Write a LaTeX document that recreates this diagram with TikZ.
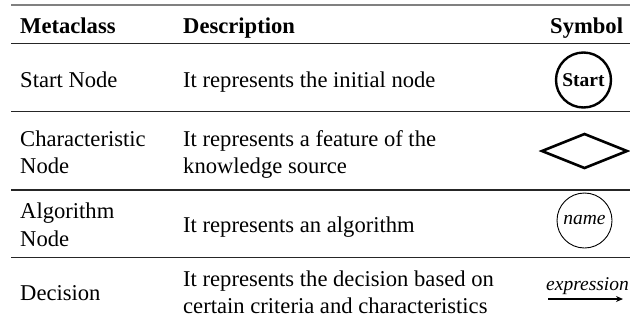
\documentclass[tikz,border=0pt]{standalone}
\usepackage{fontspec}
\setmainfont{Liberation Serif}
\usetikzlibrary{arrows.meta}
\begin{document}
\begin{tikzpicture}[x=1pt,y=-1pt,
  txt/.style={inner sep=0pt,anchor=base west,font=\fontsize{22.6}{27}\selectfont},
  hdr/.style={txt,font=\fontsize{22.6}{27}\selectfont\bfseries},
  rule/.style={draw=black!85,line width=1.2pt},
  toprule/.style={draw=black!50,line width=2pt},
  startsym/.style={circle,draw,line width=2.4pt,minimum size=55pt,inner sep=0pt,font=\fontsize{19.5}{22}\selectfont\bfseries},
  charsym/.style={line width=2.6pt,line join=miter},
  algsym/.style={circle,draw,line width=0.9pt,minimum size=55pt,inner sep=0pt,font=\fontsize{19.5}{22}\selectfont\itshape},
  decarrow/.style={line width=1.8pt,-{Stealth[length=7pt,width=6pt]}}]
\useasboundingbox (0,0) rectangle (630,322);
% rules
\coordinate (r0a) at (11,4.5);   \coordinate (r0b) at (630,4.5);
\coordinate (r1a) at (11,43.5);  \coordinate (r1b) at (630,43.5);
\coordinate (r2a) at (11,111.5); \coordinate (r2b) at (630,111.5);
\coordinate (r3a) at (11,190);   \coordinate (r3b) at (630,190);
\coordinate (r4a) at (11,257.5); \coordinate (r4b) at (630,257.5);
\draw[toprule] (r0a) -- (r0b);
\draw[rule] (r1a) -- (r1b);
\draw[rule] (r2a) -- (r2b);
\draw[rule] (r3a) -- (r3b);
\draw[rule] (r4a) -- (r4b);
% header
\node[hdr] (h1) at (20,33) {Metaclass};
\node[hdr] (h2) at (183,33) {Description};
\node[hdr] (h3) at (550,33) {Symbol};
% row 1
\node[txt] (m1) at (20,87) {Start Node};
\node[txt] (d1) at (183,87) {It represents the initial node};
\node[startsym] (s1) at (583.5,80) {Start};
% row 2
\node[txt] (m2a) at (20,146) {Characteristic};
\node[txt] (m2b) at (20,173) {Node};
\node[txt] (d2a) at (183,146) {It represents a feature of the};
\node[txt] (d2b) at (183,173) {knowledge source};
\coordinate (dl) at (542,151);
\coordinate (dt) at (584.5,134);
\coordinate (dr) at (627,151);
\coordinate (db) at (584.5,168);
\draw[charsym] (dl) -- (dt) -- (dr) -- (db) -- cycle;
% row 3
\node[txt] (m3a) at (20,218) {Algorithm};
\node[txt] (m3b) at (20,246) {Node};
\node[txt] (d3) at (183,232) {It represents an algorithm};
\node[algsym] (s3) at (584.5,220.5) {name};
% row 4
\node[txt] (m4) at (20,300) {Decision};
\node[txt] (d4a) at (183,286) {It represents the decision based on};
\node[txt] (d4b) at (183,313) {certain criteria and characteristics};
\node[inner sep=0pt,anchor=base west,font=\fontsize{19.5}{22}\selectfont\itshape] (ex) at (546,290) {expression};
\coordinate (aa) at (548,299);
\coordinate (ab) at (623,299);
\draw[decarrow] (aa) -- (ab);
\end{tikzpicture}
\end{document}
